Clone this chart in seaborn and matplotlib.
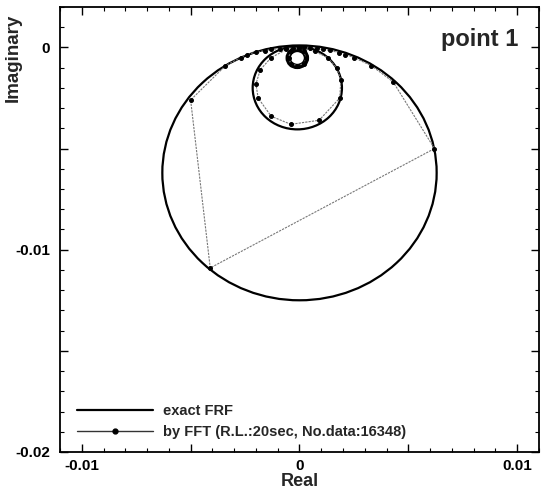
import matplotlib
matplotlib.use("Agg")
import matplotlib.pyplot as plt
import seaborn as sns
from matplotlib.patches import Circle
from matplotlib.lines import Line2D
from matplotlib.ticker import MultipleLocator, FuncFormatter

# ---- data ----
# exact FRF: three modal circles (centre real, centre imag, radius)
circle_center_real = [0.0, -0.0001, -0.0001]
circle_center_imag = [-0.0062, -0.0020, -0.00052]
circle_radius = [0.0063, 0.00205, 0.00042]
circle_width = [1.6, 1.6, 3.8]

# by FFT: sampled points in order
fft_real = [0.0, -0.0003, -0.0006, -0.0009, -0.0013, -0.0016, -0.0020, -0.0024,
            -0.0027, -0.0034, -0.0050,
            -0.0041, 0.0062, 0.0043, 0.0033, 0.0025, 0.0021, 0.0018, 0.0014,
            0.0011, 0.0008, 0.0005, 0.0002,
            0.0, 0.0007, 0.0013, 0.0017, 0.0019, 0.00185, 0.0009, -0.0004,
            -0.0013, -0.0019, -0.0020, -0.0018, -0.0013, -0.0006, 0.0,
            0.0002, 0.0003, 0.0002, -0.0001, -0.0004, -0.0005, -0.0004, 0.0]
fft_imag = [0.0, -0.00001, -0.00003, -0.00006, -0.0001, -0.00016, -0.00023, -0.00035,
            -0.0005, -0.0009, -0.0026,
            -0.0109, -0.0050, -0.0017, -0.0009, -0.0005, -0.00035, -0.00025, -0.00015,
            -0.0001, -0.00005, -0.00002, 0.0,
            0.0, -0.0002, -0.0005, -0.0010, -0.0016, -0.0025, -0.0036, -0.0038,
            -0.0034, -0.0025, -0.0018, -0.0011, -0.0005, -0.0001, 0.0,
            -0.0002, -0.0005, -0.0008, -0.0009, -0.0008, -0.0005, -0.0002, 0.0]

label_exact = "exact FRF"
label_fft = "by FFT (R.L.:20sec, No.data:16348)"
title_text = "point 1"

sns.set_theme(style="ticks")
plt.rcParams['font.family'] = ['Liberation Sans', 'DejaVu Sans']
plt.rcParams['font.weight'] = 'bold'

fig = plt.figure(figsize=(5.43, 4.93), dpi=100)
ax = fig.add_axes([0.1105, 0.0832, 0.8821, 0.9026])

for cx, cy, r, lw in zip(circle_center_real, circle_center_imag, circle_radius, circle_width):
    ax.add_patch(Circle((cx, cy), r, fill=False, edgecolor='black', linewidth=lw, zorder=3))

sns.lineplot(x=fft_real, y=fft_imag, sort=False, estimator=None, ax=ax,
             color='#777777', linewidth=0.8, linestyle=(0, (2, 1)),
             marker='o', markersize=2.8,
             markeredgecolor='black', markerfacecolor='black', zorder=4)

ax.set_xlim(-0.011, 0.011)
ax.set_ylim(-0.02, 0.002)


def tick_fmt(v, p):
    if abs(round(v / 0.01) * 0.01 - v) > 1e-9:
        return ""
    if abs(v) < 1e-9:
        return "0"
    return "%.2f" % v


fmt = FuncFormatter(tick_fmt)
ax.xaxis.set_major_locator(MultipleLocator(0.005))
ax.yaxis.set_major_locator(MultipleLocator(0.005))
ax.xaxis.set_minor_locator(MultipleLocator(0.001))
ax.yaxis.set_minor_locator(MultipleLocator(0.001))
ax.xaxis.set_major_formatter(fmt)
ax.yaxis.set_major_formatter(fmt)
ax.tick_params(which='both', direction='in', top=True, right=True, colors='black')
ax.tick_params(which='major', length=6, width=1.0, labelsize=11)
ax.tick_params(which='minor', length=3, width=0.8)
ax.tick_params(axis='x', which='major', pad=5)
ax.tick_params(axis='y', which='major', pad=7)
for s in ax.spines.values():
    s.set_color('black')
    s.set_linewidth(1.3)

ax.set_xlabel("Real", fontsize=13, fontweight='bold', labelpad=0)
ax.set_ylabel("Imaginary", fontsize=13.5, fontweight='bold')
ax.yaxis.set_label_coords(-0.079, 0.885)

ax.text(0.956, 0.926, title_text, transform=ax.transAxes, ha='right', va='center',
        fontsize=17, fontweight='bold')

handles = [Line2D([], [], color='black', linewidth=1.6),
           Line2D([0, 0.5, 1], [0, 0, 0], color='#333333', linewidth=1.0, marker='o',
                  markersize=3.5, markerfacecolor='black', markeredgecolor='black',
                  markevery=[1])]
ax.legend(handles, [label_exact, label_fft], loc='lower left',
          bbox_to_anchor=(0.035, 0.03), frameon=False, borderaxespad=0,
          borderpad=0, handlelength=5.2, handletextpad=0.7, labelspacing=0.45,
          prop={'size': 10.5, 'weight': 'bold'})

fig.savefig("out.png", dpi=100, facecolor='white')
